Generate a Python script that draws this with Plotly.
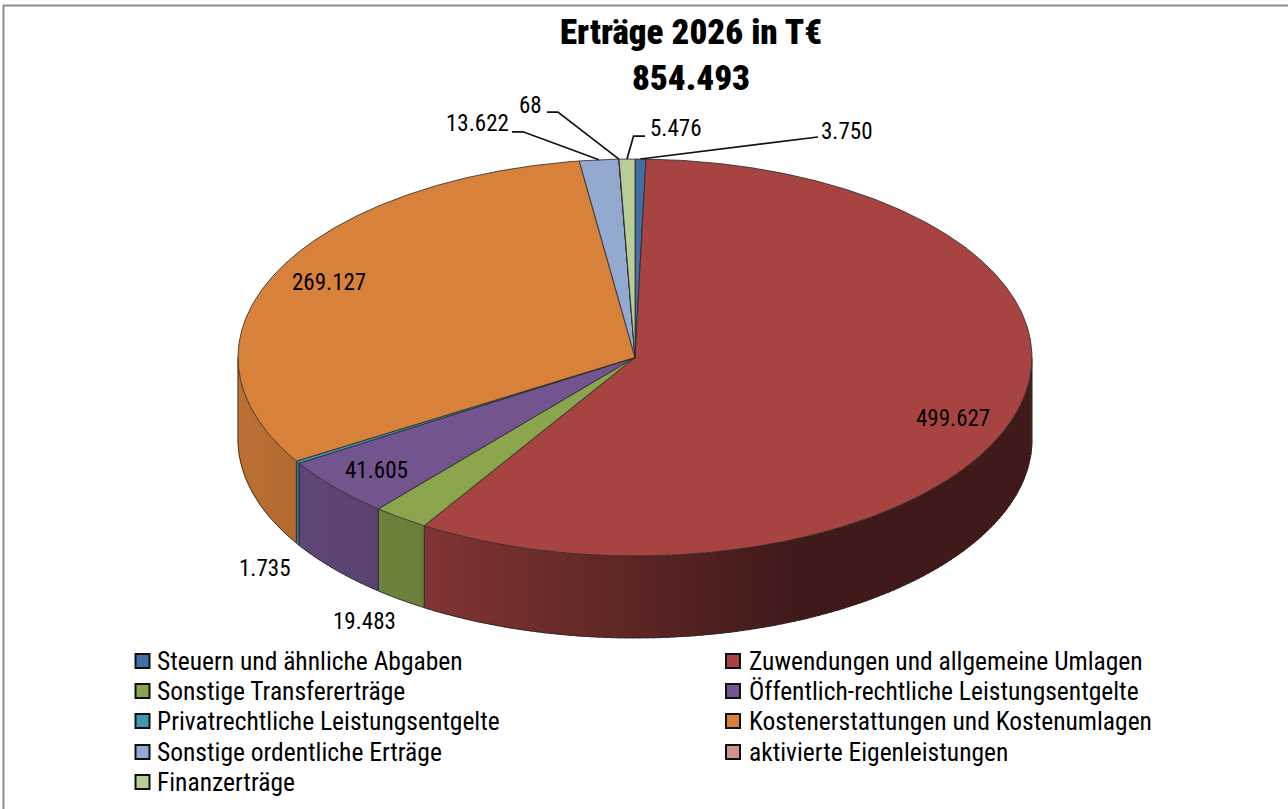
import numpy as np
import plotly.graph_objects as go

# ---------- data ----------
categories = ["Steuern und ähnliche Abgaben", "Zuwendungen und allgemeine Umlagen",
              "Sonstige Transfererträge", "Öffentlich-rechtliche Leistungsentgelte",
              "Privatrechtliche Leistungsentgelte", "Kostenerstattungen und Kostenumlagen",
              "Sonstige ordentliche Erträge", "aktivierte Eigenleistungen", "Finanzerträge"]
values = [3750, 499627, 19483, 41605, 1735, 269127, 13622, 68, 5476]
title_lines = ["Erträge 2026 in T€", "854.493"]

# ---------- style ----------
colors = ["#4270A6", "#A74442", "#8AA54C", "#72558F", "#3F97AE", "#D8813A", "#93A9CF", "#D19392", "#B9CD96"]
FONT = "Roboto Condensed"
CX, CY, RX, RY, DEPTH = 635, 357.5, 397, 198.5, 82
OUT = "#262626"

# label offsets from the rim point of each slice's middle (px)
label_off = [(206.5, -28), (-62, 4), (-36, 104), (41, -17), (-33, 106), (53, 10), (-121, -36), (-88, -54), (48, -31)]
# leader offsets (elbow, end) from the rim point
leaders = {0: [(172.5, -22), (177.5, -22)], 8: [(6.5, -23), (18, -23)],
           7: [(-61, -47), (-72, -47)], 6: [(-76, -28), (-87, -28)]}
# legend rows: column marker x, text x, row y
legend_pos = [(142.5, 155, 661), (733, 747, 661), (142.5, 155, 691), (733, 747, 691), (142.5, 155, 721),
              (733, 747, 721), (142.5, 155, 752), (733, 747, 752), (142.5, 155, 782)]


def rim(deg, drop=0.0):
    t = np.radians(deg)
    return CX + RX * np.sin(t), CY - RY * np.cos(t) + drop


def shade(hex_col, x):
    f = np.interp(x, [238, 300, 425, 790, 1032], [0.87, 0.82, 0.77, 0.385, 0.385])
    r, g, b = (int(hex_col[i:i + 2], 16) for i in (1, 3, 5))
    return f"rgb({r * f:.0f},{g * f:.0f},{b * f:.0f})"


total = sum(values)
edges = np.cumsum([0] + values) / total * 360.0
fig = go.Figure()

# side walls, built as thin strips for the horizontal light gradient
for i, col in enumerate(colors):
    a0, a1 = max(edges[i], 90), min(edges[i + 1], 270)
    if a1 <= a0:
        continue
    n = max(1, int((a1 - a0) / 1.0))
    steps = np.linspace(a0, a1, n + 1)
    for s0, s1 in zip(steps[:-1], steps[1:]):
        s1e = min(s1 + 0.5, a1)
        th = np.linspace(s0, s1e, 6)
        xt, yt = rim(th)
        xb, yb = rim(th, DEPTH)
        c = shade(col, xt.mean())
        fig.add_trace(go.Scatter(x=np.r_[xt, xb[::-1]], y=np.r_[yt, yb[::-1]], fill="toself", fillcolor=c,
                                 mode="lines", line=dict(color=c, width=0.4), hoverinfo="skip", showlegend=False))
    th = np.linspace(a0, a1, 200)
    xb, yb = rim(th, DEPTH)
    fig.add_trace(go.Scatter(x=xb, y=yb, mode="lines", line=dict(color=OUT, width=0.8), hoverinfo="skip", showlegend=False))
    for a in (a0, a1):
        xt, yt = rim(a)
        fig.add_trace(go.Scatter(x=[xt, xt], y=[yt, yt + DEPTH], mode="lines", line=dict(color=OUT, width=0.8),
                                 hoverinfo="skip", showlegend=False))

# top faces
for i, (cat, col) in enumerate(zip(categories, colors)):
    th = np.linspace(edges[i], edges[i + 1], max(3, int((edges[i + 1] - edges[i]) * 4)))
    x, y = rim(th)
    fig.add_trace(go.Scatter(x=np.r_[CX, x, CX], y=np.r_[CY, y, CY], fill="toself", fillcolor=col, mode="lines",
                             line=dict(color=OUT, width=0.8), name=cat, hovertemplate=f"{cat}: {values[i]}<extra></extra>",
                             showlegend=False))

# leader lines
for i, pts in leaders.items():
    mx, my = rim((edges[i] + edges[i + 1]) / 2)
    fig.add_trace(go.Scatter(x=[mx] + [mx + p[0] for p in pts], y=[my] + [my + p[1] for p in pts], mode="lines",
                             line=dict(color="#111111", width=1.7), hoverinfo="skip", showlegend=False))

annotations = []
for i, v in enumerate(values):
    mx, my = rim((edges[i] + edges[i + 1]) / 2)
    dx, dy = label_off[i]
    annotations.append(dict(x=mx + dx, y=my + dy, text=f"{v:,}".replace(",", "."), showarrow=False,
                            font=dict(family=FONT, size=23, color="#000000"), xanchor="center", yanchor="middle"))

# legend
for i, (cat, col) in enumerate(zip(categories, colors)):
    mxp, txp, yp = legend_pos[i]
    fig.add_trace(go.Scatter(x=[mxp], y=[yp], mode="markers", hoverinfo="skip", showlegend=False,
                             marker=dict(symbol="square", size=14, color=col, line=dict(color="#111111", width=2))))
    annotations.append(dict(x=txp, y=yp, text=cat, showarrow=False, xanchor="left", yanchor="middle",
                            font=dict(family=FONT, size=25.5, color="#000000")))

fig.update_layout(
    width=1288, height=809, margin=dict(l=0, r=0, t=0, b=0), paper_bgcolor="white", plot_bgcolor="white",
    showlegend=False, annotations=annotations,
    title=dict(text="<br>".join(title_lines), x=691 / 1288, xanchor="center", y=1 - 44 / 809, yanchor="top",
               font=dict(family=FONT, size=35, color="#000000", weight=900)),
    xaxis=dict(range=[0, 1288], visible=False, fixedrange=True),
    yaxis=dict(range=[809, 0], visible=False, fixedrange=True),
    shapes=[dict(type="line", xref="paper", yref="paper", x0=3.5 / 1288, x1=3.5 / 1288, y0=0, y1=1 - 5 / 809,
                 line=dict(color="#8e8e8e", width=2)),
            dict(type="line", xref="paper", yref="paper", x0=3 / 1288, x1=1, y0=1 - 5.5 / 809, y1=1 - 5.5 / 809,
                 line=dict(color="#8e8e8e", width=2))],
)
fig.write_html("out.html", config=dict(displayModeBar=False),
               post_script="document.body.style.margin='0';document.documentElement.style.overflow='hidden';")
